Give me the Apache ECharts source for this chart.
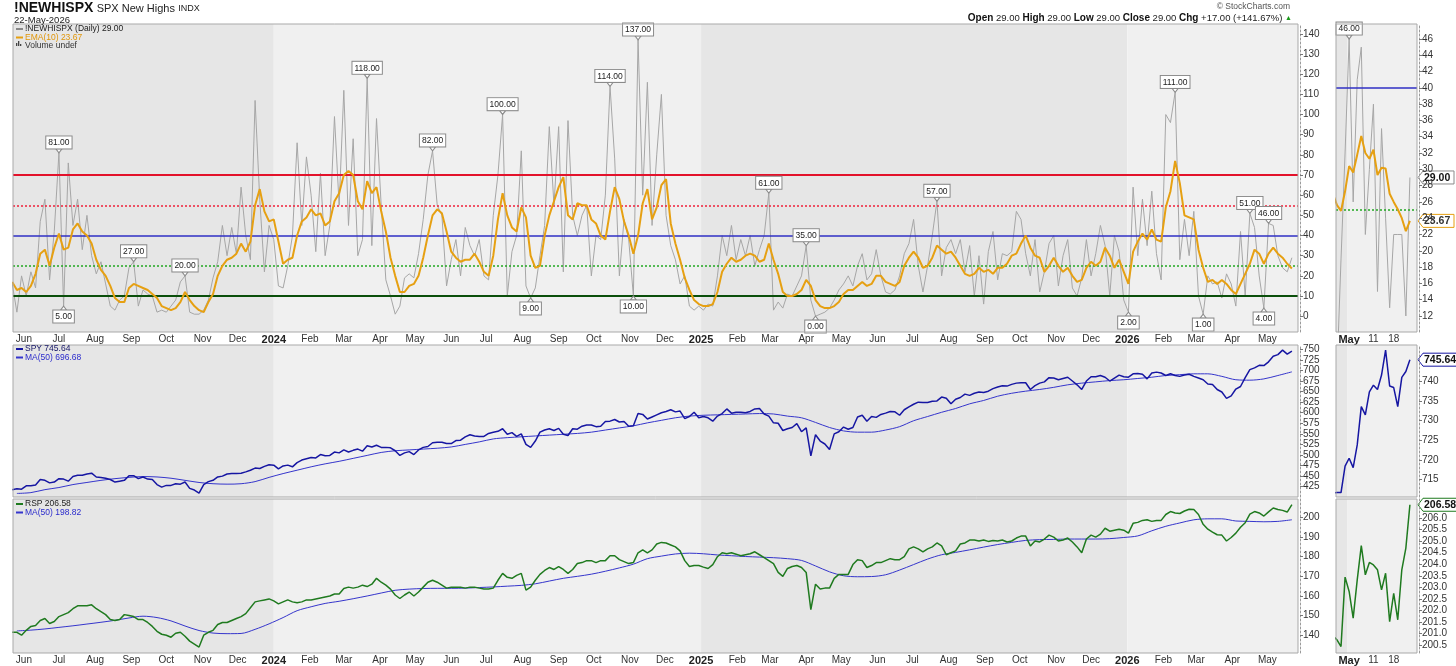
<!DOCTYPE html>
<html><head><meta charset="utf-8">
<script src="https://cdn.jsdelivr.net/npm/echarts@6/dist/echarts.min.js"></script>
<style>html,body{margin:0;padding:0;background:#fff}#c{width:1456px;height:666px}</style>
</head><body><div id="c"></div>
<script>
// ---------------- DATA ----------------
// main panels: one reading every 4 calendar days from startDate
const startDate = '2023-05-22';
const stepDays = 4;
const newHighs = [
 16,2,20,10,22,14,47,58,18,42,
 81,5,76,45,58,33,50,30,21,27,
 16,5,3,8,10,24,27,5,13,11,
 10,2,3,2,5,8,17,20,2,1,
 1,3,8,19,27,45,30,44,31,64,
 40,28,107,58,22,45,38,15,14,25,
 40,86,45,79,60,32,71,30,45,99,
 55,112,45,88,30,38,118,35,98,55,
 18,10,1,5,19,21,19,31,48,70,
 82,55,50,15,28,38,20,44,35,30,
 38,20,18,50,70,100,10,32,40,82,
 15,9,14,30,45,94,55,94,22,97,
 50,40,50,55,20,40,38,60,114,78,
 20,48,38,10,137,60,116,45,80,110,
 50,35,28,16,20,5,3,5,3,6,
 5,20,40,30,45,28,38,30,40,25,
 33,40,61,3,7,4,11,10,15,20,
 35,8,0,1,2,4,8,13,16,20,
 15,25,31,18,21,33,20,12,11,13,
 20,31,36,48,25,12,25,40,57,20,
 34,38,31,38,22,35,10,30,6,32,
 42,18,31,30,32,52,48,31,20,38,
 12,22,36,40,15,30,38,14,10,19,
 38,20,31,45,35,10,40,32,8,2,
 64,30,58,35,62,31,18,100,96,111,
 28,48,30,52,10,1,20,16,17,9,
 21,16,5,42,10,51,44,20,4,46,
 45,30,24,22,29];
const ema10 = [
 17,13,14,12,15,21,31,33,25,34,
 41,33,34,43,46,42,40,36,28,23,
 20,15,9,7,7,14,16,15,14,13,
 11,9,5,4,3,4,7,12,8,5,
 3,2,7,11,20,25,28,29,31,36,
 32,37,55,63,52,47,48,37,26,28,
 29,40,47,49,53,50,51,45,47,57,
 61,70,72,70,57,53,67,61,64,52,
 42,29,20,12,12,15,16,20,29,40,
 50,53,51,42,32,29,27,28,28,31,
 27,22,20,30,48,61,50,44,42,54,
 49,30,24,25,40,50,57,64,69,50,
 48,56,55,55,48,46,40,38,52,64,
 58,47,40,31,40,56,63,48,54,65,
 68,46,36,28,19,13,8,6,5,5,
 6,12,22,26,29,27,28,30,31,30,
 27,28,36,28,21,12,10,10,11,13,
 18,15,8,5,4,4,5,7,11,13,
 13,15,17,15,16,20,20,17,16,15,
 17,25,29,32,29,24,25,29,35,33,
 31,32,29,25,21,20,21,24,22,23,
 21,24,24,26,30,31,36,40,34,30,
 29,22,25,29,25,22,24,20,17,18,
 24,27,25,27,34,30,24,28,22,16,
 32,37,41,38,43,38,37,54,62,77,
 66,50,49,48,33,24,17,18,16,18,
 16,13,11,16,21,26,33,31,26,31,
 34,31,29,26,23.67];
const spy = [
 418,420,419,427,427,429,442,440,434,436,
 444,443,438,449,452,452,455,457,448,447,
 445,442,436,438,440,451,451,444,448,443,
 442,430,424,428,428,432,431,436,421,417,
 410,430,437,440,448,450,455,456,456,457,
 460,464,469,468,473,477,476,467,474,476,
 472,482,488,491,494,493,501,498,499,507,
 505,512,507,511,514,509,522,519,523,518,
 518,517,510,499,505,508,501,512,518,520,
 529,530,530,527,527,534,535,543,548,545,
 544,544,551,554,556,562,549,553,544,550,
 525,518,533,554,559,562,558,563,549,546,
 562,561,568,571,571,567,568,579,580,584,
 578,579,568,569,598,596,585,590,595,600,
 603,607,602,604,586,591,601,588,591,588,
 580,592,598,609,599,601,601,600,603,609,
 610,597,592,576,575,558,562,565,574,555,
 564,498,548,533,526,513,550,555,566,561,
 565,590,594,580,591,589,596,599,603,602,
 594,607,614,620,625,624,624,627,628,637,
 634,621,632,636,644,641,646,649,648,651,
 657,661,664,663,667,670,671,671,655,664,
 670,673,683,682,678,681,684,675,666,655,
 675,685,685,688,684,675,682,689,685,684,
 692,693,691,680,694,696,694,688,692,688,
 686,689,691,686,682,678,668,667,655,649,
 634,640,656,662,683,702,706,712,711.6,720.4,
 733.6,737.4,748.1,738.5,745.64];
const rsp = [
 141.5,141.5,140,142.5,144.5,145,147.5,148.5,146,147,
 149.5,150.5,151.5,153.5,155,155,155,155.5,153.5,152,
 150.5,148,147.5,148,150.5,150,149.5,148,148,146.5,
 144.5,142,140.5,140,139,141,141.5,139.5,137,135.5,
 134,140,141.5,142.5,145.5,146.5,146.5,147.5,148.5,149.5,
 151,154,157,157.5,158,158.5,157.5,156,157,158,
 157,156.5,157,158,158,158.5,159,159.5,160,161,
 161,163.8,164.5,164,164.5,165.5,164.8,166,169,167,
 165.5,163.5,160.5,158.7,160.5,162,160,162,164.5,167,
 168,167,165.5,164,164.5,164.5,164.5,164,164.5,164.5,
 164,163.5,163.5,164,168,171.5,169.5,169,170.5,171.5,
 163,164.5,168,171,173,174.5,173.5,175,173.5,171.5,
 173.5,176.5,177,178,178,177,178,178,180.5,180.5,
 178.5,177.5,176.5,177,182,183.5,182,183.5,186.5,187.3,
 187,186,185,183,178,175,175.5,175.5,174.7,174,
 176,180,182,181.5,182,181.3,180.5,181,181.5,182.5,
 181,179.5,178,176.5,172,170,174,175,175.5,174.5,
 172,153,166,163.5,164,164,169,171,171,171,
 176,178.5,178,174.5,175.5,177,177,178,179,178.5,
 178.5,180,184,185,184,182.5,184,185,187,185.5,
 181,182,183,186.5,187,188.5,188.5,188,188.5,187.8,
 188.3,188,188.5,187.5,188,189.5,190.5,190.5,185.5,188,
 187.5,189,191,190,188,188.5,189.5,187.5,185,182,
 189,191,190,191.5,194.5,193,193.5,194,193.5,192,
 197,197.5,198.5,198.8,198,198.5,198.5,201.5,203,202.3,
 202,203.3,204.2,204,201.5,196.5,194,192.5,191.2,191,
 188,189.8,192,195,197.3,201.7,203,202.3,200.72,202.82,
 204.81,204.08,203.61,202.74,206.58];
// 50-day moving averages: one reading every 12 calendar days from maStartDate
const maStartDate = '2023-05-26';
const maStepDays = 12;
const spyMa50 = [
 409,411,418,423,430,435,440,444,447,449,
 448,445,440,435,432,431,432,437,447,456,
 464,472,479,485,492,499,506,510,512,514,
 516,519,525,531,538,541,543,545,547,549,
 551,554,559,564,569,576,582,588,592,594,
 595,596,597,598,597,592,588,577,565,557,
 554,554,559,567,581,591,601,610,621,629,
 639,646,651,655,660,666,670,673,676,678,
 681,684,688,690,692,692,686,678,677,680,
 688,696.68];
const rspMa50 = [
 142.2,142.6,143.2,144.0,144.8,145.7,146.6,147.6,148.8,149.7,
 149.0,147.3,144.7,142.4,141.1,140.8,140.9,143.0,145.8,149.0,
 152.5,154.5,156.2,157.3,158.6,160.0,161.5,162.9,163.5,163.8,
 163.9,163.9,164.0,164.3,164.6,165.0,165.4,166.2,167.6,169.0,
 170.0,171.1,172.6,174.3,176.2,179.0,180.3,181.4,181.8,181.5,
 180.9,180.5,180.1,179.8,179.5,179.0,178.1,175.3,172.3,170.3,
 169.8,169.9,170.8,173.2,176.0,178.8,181.0,182.2,183.5,184.9,
 186.2,187.3,188.3,188.7,188.8,189.0,189.0,189.0,189.2,189.8,
 190.6,193.2,195.5,197.2,198.8,199.3,199.3,198.2,198.0,197.8,
 198.0,198.82];
// last-month detail panels (daily)
const miniDays = ['Apr 27','Apr 28','Apr 29','Apr 30','May 1','May 4','May 5','May 6','May 7','May 8',
 'May 11','May 12','May 13','May 14','May 15','May 18','May 19','May 20','May 21','May 22'];
const miniNewHighs = [4,5,19,32,46,26,41,45,22,30,38,15,35,24,13,22,22,22,12,29];
const miniEma10 = [27.0,25.6,24.9,27.3,30.4,29.6,31.8,34.1,32.0,31.3,32.4,29.3,30.2,30.1,27.0,26.0,25.1,24.0,22.4,23.67];
const miniSpy = [711.5,711.6,711.6,718.4,720.4,718.0,723.8,733.6,731.5,737.4,739.1,738.0,741.7,748.1,738.9,738.5,733.6,741.1,742.6,745.64];
const miniRsp = [200.9,200.72,200.43,203.44,202.82,201.66,203.32,204.81,203.54,204.08,203.97,203.76,202.89,203.61,201.51,202.74,201.59,203.76,204.70,206.58];
const miniTickDays = ['May 1','May 11','May 18'];
const miniTickLabels = ['May','11','18'];
// annotations (indices into newHighs)
const peakIdx = [10,26,37,76,90,105,128,134,162,170,198,249,265,269];
const troughIdx = [11,111,133,172,239,255,268];
const miniPeakDay = 'May 1';
// horizontal reference levels
const refLevels = [70,55,40,25,10];
const miniRefLevels = [40,25,10];
// tick labels
const monthTicks = ['2023-06-01','2023-07-01','2023-08-01','2023-09-01','2023-10-01','2023-11-01','2023-12-01',
 '2024-01-01','2024-02-01','2024-03-01','2024-04-01','2024-05-01','2024-06-01','2024-07-01','2024-08-01','2024-09-01','2024-10-01','2024-11-01','2024-12-01',
 '2025-01-01','2025-02-01','2025-03-01','2025-04-01','2025-05-01','2025-06-01','2025-07-01','2025-08-01','2025-09-01','2025-10-01','2025-11-01','2025-12-01',
 '2026-01-01','2026-02-01','2026-03-01','2026-04-01','2026-05-01'];
const monthTickLabels = ['Jun','Jul','Aug','Sep','Oct','Nov','Dec',
 '2024','Feb','Mar','Apr','May','Jun','Jul','Aug','Sep','Oct','Nov','Dec',
 '2025','Feb','Mar','Apr','May','Jun','Jul','Aug','Sep','Oct','Nov','Dec',
 '2026','Feb','Mar','Apr','May'];
const yearStarts = ['2024-01-01','2025-01-01','2026-01-01'];
const nhTicks = [0,10,20,30,40,50,60,70,80,90,100,110,120,130,140];
const spyTicks = [425,450,475,500,525,550,575,600,625,650,675,700,725,750];
const rspTicks = [140,150,160,170,180,190,200];
const miniNhTicks = [12,14,16,18,20,22,24,26,28,30,32,34,36,38,40,42,44,46];
const miniSpyTicks = [715,720,725,730,735,740];
const miniRspTicks = [200.5,201,201.5,202,202.5,203,203.5,204,204.5,205,205.5,206];

// ---------------- BUILD ----------------
const FONT = '"Liberation Sans", Arial, sans-serif';
const NARROW = '"Liberation Sans Narrow", "Arial Narrow", "Liberation Sans", Arial, sans-serif';
const DAY = 86400000;
const toTs = s => Date.parse(s.length === 10 ? s + 'T00:00:00Z' : s);
const t0 = toTs(startDate);
const mainX = newHighs.map((_, i) => t0 + i * stepDays * DAY);
const maT0 = toTs(maStartDate);
const maX = spyMa50.map((_, i) => maT0 + i * maStepDays * DAY);
const pair = (xs, ys) => ys.map((v, i) => [xs[i], v]);
const idxPair = ys => ys.map((v, i) => [i, v]);
const X_MIN = toTs('2023-05-22T16:00:00Z'), X_MAX = toTs('2026-05-27T05:30:00Z');
const MX_MIN = 0.76, MX_MAX = 20.75;
const monthTs = monthTicks.map(toTs);
const miniTickIdx = miniTickDays.map(d => miniDays.indexOf(d));

const GRIDS = [
 {left: 13, top: 24, width: 1285, height: 308},
 {left: 13, top: 345, width: 1285, height: 152},
 {left: 13, top: 499, width: 1285, height: 154},
 {left: 1336, top: 24, width: 81, height: 308},
 {left: 1336, top: 345, width: 81, height: 152},
 {left: 1336, top: 499, width: 81, height: 154}
];
const grid = GRIDS.map(g => Object.assign({show: false, containLabel: false, outerBoundsMode: 'none'}, g));

const labelBase = {fontSize: 10, color: '#333', fontFamily: FONT};
function mainXAxis(gi, show) {
  return {type: 'value', gridIndex: gi, min: X_MIN, max: X_MAX, splitLine: {show: false},
    axisLine: {show: false}, axisTick: {show: false},
    axisLabel: Object.assign({show: show, customValues: monthTs, margin: 2,
      formatter: v => { const s = monthTickLabels[monthTs.indexOf(v)] || ''; return /^\d{4}$/.test(s) ? '{y|' + s + '}' : s; },
      rich: {y: {fontWeight: 'bold', fontSize: 11, color: '#222', fontFamily: FONT}}}, labelBase)};
}
function miniXAxis(gi, show) {
  return {type: 'value', gridIndex: gi, min: MX_MIN, max: MX_MAX, splitLine: {show: false},
    axisLine: {show: false}, axisTick: {show: false},
    axisLabel: Object.assign({show: show, customValues: miniTickIdx, margin: 2,
      formatter: v => { const s = miniTickLabels[miniTickIdx.indexOf(v)] || ''; return s === 'May' ? '{b|May}' : s; },
      rich: {b: {fontWeight: 'bold', fontSize: 11, color: '#222', fontFamily: FONT}}}, labelBase)};
}
function yAx(gi, min, max, ticks, fmt) {
  return {type: 'value', gridIndex: gi, position: 'right', min, max, offset: 2, splitLine: {show: false},
    axisLine: {show: true, lineStyle: {color: '#9a9a9a', type: [2, 2], width: 1}},
    axisTick: {show: true, customValues: ticks, length: 3, lineStyle: {color: '#777'}},
    axisLabel: Object.assign({customValues: ticks, margin: 3, formatter: fmt || (v => String(v))}, labelBase)};
}

const DARK = '#e6e6e6', LIGHT = '#f0f0f0';
function mainBands() {
  const e = [X_MIN].concat(yearStarts.map(toTs), [X_MAX]);
  const out = [];
  for (let i = 0; i < e.length - 1; i++) out.push([{xAxis: e[i], itemStyle: {color: i % 2 ? LIGHT : DARK}}, {xAxis: e[i + 1]}]);
  return out;
}
const mayStart = miniDays.indexOf('May 1') - 0.5;
function miniBands() {
  return [[{xAxis: MX_MIN, itemStyle: {color: DARK}}, {xAxis: mayStart}], [{xAxis: mayStart, itemStyle: {color: LIGHT}}, {xAxis: MX_MAX}]];
}
function bandSeries(gi, bands) {
  return {type: 'line', xAxisIndex: gi, yAxisIndex: gi, data: [], silent: true, z: 0,
    markArea: {silent: true, z: 0, data: bands}};
}
const REF_STYLE = {
  70: {color: '#e3122b', width: 2, type: 'solid'},
  55: {color: '#f0203a', width: 1.5, type: [2, 2]},
  40: {color: '#2f2fc4', width: 1.6, type: 'solid'},
  25: {color: '#22a822', width: 1.5, type: [2, 2]},
  10: {color: '#0b4f0b', width: 2, type: 'solid'}
};
function refSeries(gi, levels) {
  return {type: 'line', xAxisIndex: gi, yAxisIndex: gi, data: [], silent: true, z: 3,
    markLine: {silent: true, z: 3, symbol: 'none', label: {show: false}, animation: false,
      data: levels.map(l => ({yAxis: l, lineStyle: REF_STYLE[l]}))}};
}
function mark(x, v, up) {
  return {coord: [x, v], value: v, symbol: 'triangle', symbolSize: [6, 4], symbolRotate: up ? 180 : 0,
    symbolOffset: [0, up ? -2 : 2], itemStyle: {color: '#fff', borderColor: '#8a8a8a', borderWidth: 1},
    label: {show: true, position: up ? 'top' : 'bottom', distance: 0, formatter: v.toFixed(2),
      fontSize: 8.5, fontFamily: FONT, color: '#222', backgroundColor: '#fff', borderColor: '#8a8a8a',
      borderWidth: 1, padding: [2, 2, 1, 2]}};
}
const lineS = (gi, data, color, width, z, extra) => Object.assign({type: 'line', xAxisIndex: gi, yAxisIndex: gi,
  data, symbol: 'none', showSymbol: false, silent: true, z, lineStyle: {color, width}}, extra || {});

const GRAY = '#a6a6a6', ORANGE = '#e6a012', NAVY = '#1616a2', MABLUE = '#3535cc', GREEN = '#1f7a1f';
const miniPeakI = miniDays.indexOf(miniPeakDay);
const series = [
  bandSeries(0, mainBands()), bandSeries(1, mainBands()), bandSeries(2, mainBands()),
  bandSeries(3, miniBands()), bandSeries(4, miniBands()), bandSeries(5, miniBands()),
  lineS(0, pair(mainX, newHighs), GRAY, 1, 2),
  refSeries(0, refLevels),
  lineS(0, pair(mainX, ema10), ORANGE, 2, 4),
  {type: 'line', xAxisIndex: 0, yAxisIndex: 0, data: [], silent: true, z: 10,
    markPoint: {z: 10, animation: false, silent: true,
      data: peakIdx.map(i => mark(mainX[i], newHighs[i], true)).concat(troughIdx.map(i => mark(mainX[i], newHighs[i], false)))}},
  lineS(1, pair(maX, spyMa50), MABLUE, 1, 3, {smooth: 0.3}),
  lineS(1, pair(mainX, spy), NAVY, 1.5, 4),
  lineS(2, pair(maX, rspMa50), MABLUE, 1, 3, {smooth: 0.3}),
  lineS(2, pair(mainX, rsp), GREEN, 1.5, 4),
  lineS(3, idxPair(miniNewHighs), GRAY, 1, 2),
  refSeries(3, miniRefLevels),
  lineS(3, idxPair(miniEma10), ORANGE, 2, 4),
  {type: 'line', xAxisIndex: 3, yAxisIndex: 3, data: [], silent: true, z: 10,
    markPoint: {z: 10, animation: false, silent: true, data: [mark(miniPeakI, miniNewHighs[miniPeakI], true)]}},
  lineS(4, idxPair(miniSpy), NAVY, 1.5, 4),
  lineS(5, idxPair(miniRsp), GREEN, 1.5, 4)
];

const option = {
  animation: false,
  backgroundColor: '#fff',
  grid,
  xAxis: [mainXAxis(0, true), mainXAxis(1, false), mainXAxis(2, true), miniXAxis(3, true), miniXAxis(4, false), miniXAxis(5, true)],
  yAxis: [
    yAx(0, -7.84, 144.9, nhTicks),
    yAx(1, 400.6, 760.2, spyTicks),
    yAx(2, 130.95, 209.4, rspTicks),
    yAx(3, 10.03, 47.84, miniNhTicks),
    yAx(4, 710.47, 749.4, miniSpyTicks),
    yAx(5, 200.15, 206.83, miniRspTicks, v => v.toFixed(1))
  ],
  series
};

const chart = echarts.init(document.getElementById('c'), null, {renderer: 'canvas'});
chart.setOption(option);

// ---------------- TEXT / FRAMES ----------------
const last = a => a[a.length - 1];
const fmt2 = v => v.toFixed(2);
const g = [];
GRIDS.forEach(r => g.push({type: 'rect', z: 50, silent: true,
  shape: {x: r.left, y: r.top, width: r.width, height: r.height},
  style: {fill: null, stroke: '#a9a9a9', lineWidth: 1}}));
const txt = (x, y, text, size, color, weight, align, va, fam) => ({type: 'text', x, y, z: 60, silent: true,
  style: {text, fill: color, fontSize: size, fontFamily: fam || FONT, fontWeight: weight || 'normal', align: align || 'left', verticalAlign: va || 'middle'}});
// header
g.push({type: 'text', x: 14, y: 8, z: 60, silent: true, style: {
  text: '{t|!NEWHISPX} {s|SPX New Highs} {i|INDX}', verticalAlign: 'middle', fill: '#111',
  rich: {t: {fontSize: 14, fontWeight: 'bold', fontFamily: NARROW, fill: '#111'},
         s: {fontSize: 11, fontFamily: NARROW, fill: '#222', padding: [1, 0, 0, 0]},
         i: {fontSize: 9, fontFamily: FONT, fill: '#222', padding: [2, 0, 0, 0]}}}});
g.push(txt(14, 20, '22-May-2026', 9.5, '#222'));
g.push(txt(1290, 7, '\u00A9 StockCharts.com', 8.5, '#555', 'normal', 'right'));
const cl = last(miniNewHighs), prev = miniNewHighs[miniNewHighs.length - 2];
const chg = cl - prev, pct = chg / prev * 100;
g.push({type: 'text', x: 1292, y: 18, z: 60, silent: true, style: {
  text: '{b|Open} ' + fmt2(cl) + ' {b|High} ' + fmt2(cl) + ' {b|Low} ' + fmt2(cl) + ' {b|Close} ' + fmt2(cl) +
    ' {b|Chg} +' + fmt2(chg) + ' (+' + fmt2(pct) + '%) {g|\u25B2}',
  fill: '#222', fontSize: 9.5, fontFamily: FONT, align: 'right', verticalAlign: 'middle',
  rich: {b: {fontWeight: 'bold', fontSize: 10, fontFamily: FONT, fill: '#111'}, g: {fill: '#1a9a1a', fontSize: 7}}}});
// legends
function legend(x, y, dash, text, tcolor) {
  g.push({type: 'rect', z: 60, silent: true, shape: {x, y: y - 1, width: 7, height: 2}, style: {fill: dash}});
  g.push(txt(x + 9, y, text, 8.5, tcolor));
}
legend(16, 29, '#888', '!NEWHISPX (Daily) ' + fmt2(last(newHighs)), '#222');
legend(16, 37.5, ORANGE, 'EMA(10) ' + fmt2(last(ema10)), '#e0960a');
[[16, 43, 3], [18, 41, 5], [20, 44, 2]].forEach(b => g.push({type: 'rect', z: 60, silent: true,
  shape: {x: b[0], y: b[1], width: 1.3, height: b[2]}, style: {fill: '#444'}}));
g.push(txt(25, 46, 'Volume undef', 8.5, '#333'));
legend(16, 349, NAVY, 'SPY ' + fmt2(last(spy)), '#141466');
legend(16, 357.5, MABLUE, 'MA(50) ' + fmt2(last(spyMa50)), '#2b2bcc');
legend(16, 504, GREEN, 'RSP ' + fmt2(last(rsp)), '#222');
legend(16, 512.5, MABLUE, 'MA(50) ' + fmt2(last(rspMa50)), '#2b2bcc');
// last value tags on the detail panels
function tag(gi, yVal, text, border, tcolor) {
  const py = chart.convertToPixel({gridIndex: gi}, [MX_MAX, yVal]);
  const x0 = py[0] + 1, y0 = py[1];
  const w = text.length * 6 + 6;
  g.push({type: 'group', x: x0, y: y0, z: 70, silent: true, children: [
    {type: 'polygon', shape: {points: [[0, 0], [5, -6.5], [w, -6.5], [w, 6.5], [5, 6.5]]}, style: {fill: '#fff', stroke: border, lineWidth: 1}},
    {type: 'text', x: 6, y: 0.5, style: {text, fill: tcolor, fontSize: 10.5, fontWeight: 'bold', fontFamily: FONT, verticalAlign: 'middle'}}
  ]});
}
tag(3, last(miniNewHighs), fmt2(last(miniNewHighs)), '#8a8a8a', '#111');
tag(3, last(miniEma10), fmt2(last(miniEma10)), ORANGE, '#333');
tag(4, last(miniSpy), fmt2(last(miniSpy)), NAVY, '#111');
tag(5, last(miniRsp), fmt2(last(miniRsp)), GREEN, '#111');
chart.setOption({graphic: g});
</script></body></html>
